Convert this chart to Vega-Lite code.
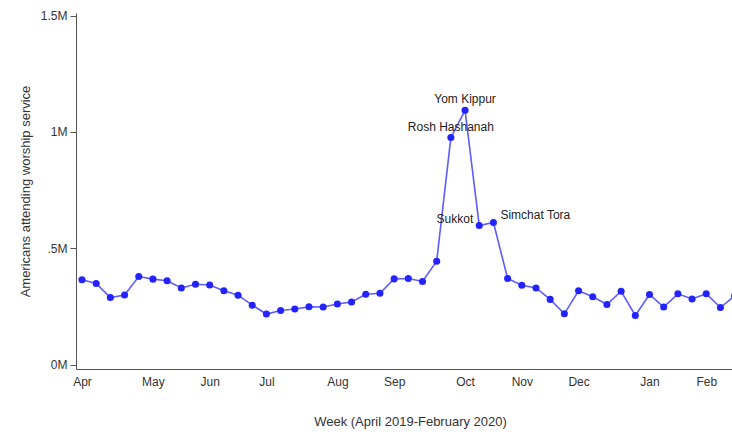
{
  "$schema": "https://vega.github.io/schema/vega-lite/v6.json",
  "width": 656,
  "height": 356,
  "autosize": {"type": "none"},
  "padding": {"left": 76, "top": 13, "right": 0, "bottom": 65},
  "background": "white",
  "config": {
    "view": {"stroke": null},
    "font": "Liberation Sans",
    "axis": {"labelFont": "Liberation Sans", "titleFont": "Liberation Sans", "labelFontSize": 12, "titleFontSize": 13, "titleFontWeight": "normal", "labelColor": "#333", "titleColor": "#333", "domainColor": "#555", "tickColor": "#555", "grid": false}
  },
  "data": {"values": [
    {"week": "2019-04-01", "attendance": 365000},
    {"week": "2019-04-08", "attendance": 349000},
    {"week": "2019-04-15", "attendance": 289000},
    {"week": "2019-04-22", "attendance": 300000},
    {"week": "2019-04-29", "attendance": 379000},
    {"week": "2019-05-06", "attendance": 368000},
    {"week": "2019-05-13", "attendance": 361000},
    {"week": "2019-05-20", "attendance": 330000},
    {"week": "2019-05-27", "attendance": 346000},
    {"week": "2019-06-03", "attendance": 343000},
    {"week": "2019-06-10", "attendance": 318000},
    {"week": "2019-06-17", "attendance": 299000},
    {"week": "2019-06-24", "attendance": 256000},
    {"week": "2019-07-01", "attendance": 218000},
    {"week": "2019-07-08", "attendance": 233000},
    {"week": "2019-07-15", "attendance": 240000},
    {"week": "2019-07-22", "attendance": 249000},
    {"week": "2019-07-29", "attendance": 248000},
    {"week": "2019-08-05", "attendance": 261000},
    {"week": "2019-08-12", "attendance": 270000},
    {"week": "2019-08-19", "attendance": 303000},
    {"week": "2019-08-26", "attendance": 307000},
    {"week": "2019-09-02", "attendance": 369000},
    {"week": "2019-09-09", "attendance": 371000},
    {"week": "2019-09-16", "attendance": 358000},
    {"week": "2019-09-23", "attendance": 445000},
    {"week": "2019-09-30", "attendance": 976000, "holiday": "Rosh Hashanah"},
    {"week": "2019-10-07", "attendance": 1093000, "holiday": "Yom Kippur"},
    {"week": "2019-10-14", "attendance": 598000, "holiday": "Sukkot"},
    {"week": "2019-10-21", "attendance": 611000, "holiday": "Simchat Tora"},
    {"week": "2019-10-28", "attendance": 371000},
    {"week": "2019-11-04", "attendance": 342000},
    {"week": "2019-11-11", "attendance": 330000},
    {"week": "2019-11-18", "attendance": 281000},
    {"week": "2019-11-25", "attendance": 219000},
    {"week": "2019-12-02", "attendance": 318000},
    {"week": "2019-12-09", "attendance": 292000},
    {"week": "2019-12-16", "attendance": 259000},
    {"week": "2019-12-23", "attendance": 316000},
    {"week": "2019-12-30", "attendance": 212000},
    {"week": "2020-01-06", "attendance": 302000},
    {"week": "2020-01-13", "attendance": 248000},
    {"week": "2020-01-20", "attendance": 305000},
    {"week": "2020-01-27", "attendance": 283000},
    {"week": "2020-02-03", "attendance": 305000},
    {"week": "2020-02-10", "attendance": 246000},
    {"week": "2020-02-17", "attendance": 296000}
  ]},
  "encoding": {
    "x": {
      "field": "week", "type": "temporal",
      "scale": {"type": "utc", "domain": [{"year": 2019, "month": "Mar", "date": 29, "hours": 1, "utc": true}, {"year": 2020, "month": "Feb", "date": 15, "hours": 17, "utc": true}]},
      "axis": {
        "title": "Week (April 2019-February 2020)",
        "values": [
          {"year": 2019, "month": "Apr", "date": 1, "utc": true},
          {"year": 2019, "month": "May", "date": 6, "utc": true},
          {"year": 2019, "month": "Jun", "date": 3, "utc": true},
          {"year": 2019, "month": "Jul", "date": 1, "utc": true},
          {"year": 2019, "month": "Aug", "date": 5, "utc": true},
          {"year": 2019, "month": "Sep", "date": 2, "utc": true},
          {"year": 2019, "month": "Oct", "date": 7, "utc": true},
          {"year": 2019, "month": "Nov", "date": 4, "utc": true},
          {"year": 2019, "month": "Dec", "date": 2, "utc": true},
          {"year": 2020, "month": "Jan", "date": 6, "utc": true},
          {"year": 2020, "month": "Feb", "date": 3, "utc": true}
        ],
        "labelExpr": "utcFormat(datum.value, '%b')",
        "ticks": false, "tickSize": 0, "labelPadding": 7, "titlePadding": 28, "titleX": 334,
        "labelOverlap": false, "labelFlush": false
      }
    },
    "y": {
      "field": "attendance", "type": "quantitative",
      "scale": {"domain": [-18000, 1511000], "nice": false, "zero": false},
      "axis": {
        "title": "Americans attending  worship service",
        "values": [0, 500000, 1000000, 1500000],
        "labelExpr": "datum.value == 0 ? '0M' : datum.value == 500000 ? '.5M' : datum.value == 1000000 ? '1M' : '1.5M'",
        "tickSize": 6, "labelPadding": 3, "titlePadding": 8
      }
    }
  },
  "layer": [
    {"mark": {"type": "line", "color": "#5c5cff", "strokeWidth": 1.6, "clip": true}},
    {"mark": {"type": "point", "filled": true, "color": "#2323ff", "opacity": 1, "size": 50, "clip": true}},
    {
      "transform": [{"filter": "datum.holiday == 'Rosh Hashanah' || datum.holiday == 'Yom Kippur'"}],
      "mark": {"type": "text", "align": "center", "baseline": "alphabetic", "dy": -7, "fontSize": 12, "color": "#222"},
      "encoding": {"text": {"field": "holiday"}}
    },
    {
      "transform": [{"filter": "datum.holiday == 'Sukkot'"}],
      "mark": {"type": "text", "align": "right", "baseline": "alphabetic", "dx": -6, "dy": -3, "fontSize": 12, "color": "#222"},
      "encoding": {"text": {"field": "holiday"}}
    },
    {
      "transform": [{"filter": "datum.holiday == 'Simchat Tora'"}],
      "mark": {"type": "text", "align": "left", "baseline": "alphabetic", "dx": 7, "dy": -4, "fontSize": 12, "color": "#222"},
      "encoding": {"text": {"field": "holiday"}}
    }
  ]
}
